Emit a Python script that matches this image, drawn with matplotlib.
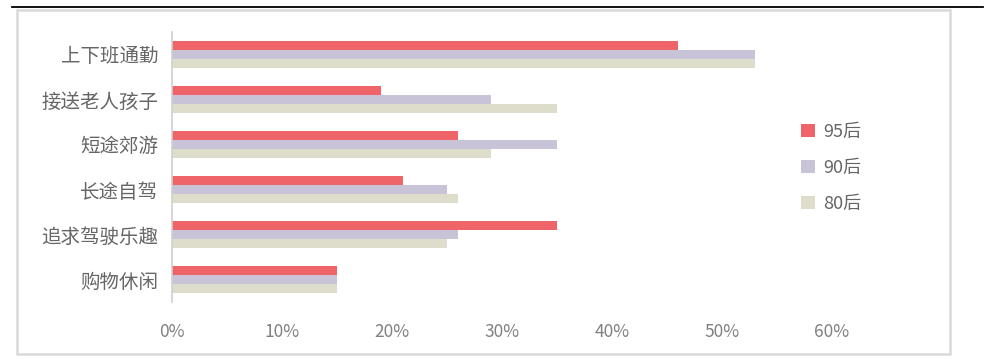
import matplotlib.pyplot as plt
import numpy as np
from matplotlib.patches import Rectangle
from matplotlib.lines import Line2D

plt.rcParams['font.family'] = ['Noto Sans CJK SC', 'DejaVu Sans']

categories = ['上下班通勤', '接送老人孩子', '短途郊游', '长途自驾', '追求驾驶乐趣', '购物休闲']
series = ['95后', '90后', '80后']
v95 = [46, 19, 26, 21, 35, 15]
v90 = [53, 29, 35, 25, 26, 15]
v80 = [53, 35, 29, 26, 25, 15]
colors = ['#EE6469', '#C8C3D7', '#DEDDCB']
xticks = [0, 10, 20, 30, 40, 50, 60]

fig = plt.figure(figsize=(9.92, 3.59), dpi=100)

# outer chart frame and top rule
fig.add_artist(Rectangle((17 / 992, 1 - 354 / 359), 933 / 992, 344 / 359,
                         transform=fig.transFigure, fill=False,
                         edgecolor='#D9D9D9', linewidth=1.8))
fig.add_artist(Line2D([12 / 992, 983 / 992], [1 - 7 / 359, 1 - 7 / 359],
                      transform=fig.transFigure, color='black', linewidth=1.3))

ax = fig.add_axes([172 / 992, 57 / 359, 660 / 992, 270 / 359])

y = np.arange(len(categories))
h = 0.2
for i, (vals, name) in enumerate(zip([v95, v90, v80], series)):
    ax.barh(y - h + i * h, vals, height=h, color=colors[i], label=name)

ax.set_ylim(len(categories) - 0.5, -0.5)
ax.set_xlim(0, 60)
ax.set_yticks(y)
ax.set_yticklabels(categories, fontsize=14, color='#666666')
ax.set_xticks(xticks)
ax.set_xticklabels([f'{t}%' for t in xticks], fontsize=12.5, color='#808080')
ax.tick_params(axis='both', length=0)
ax.tick_params(axis='y', pad=10)
ax.tick_params(axis='x', pad=15)

for s in ['top', 'right', 'bottom']:
    ax.spines[s].set_visible(False)
ax.spines['left'].set_color('#D0D0D0')
ax.spines['left'].set_linewidth(1.2)

leg = ax.legend(loc='center left', bbox_to_anchor=(785 / 992, 1 - 168 / 359),
                bbox_transform=fig.transFigure, frameon=False, fontsize=13,
                handlelength=0.75, handleheight=0.75, handletextpad=0.45,
                labelspacing=1.0)
for t in leg.get_texts():
    t.set_color('#666666')

fig.savefig('out.png', dpi=100, facecolor='white')
